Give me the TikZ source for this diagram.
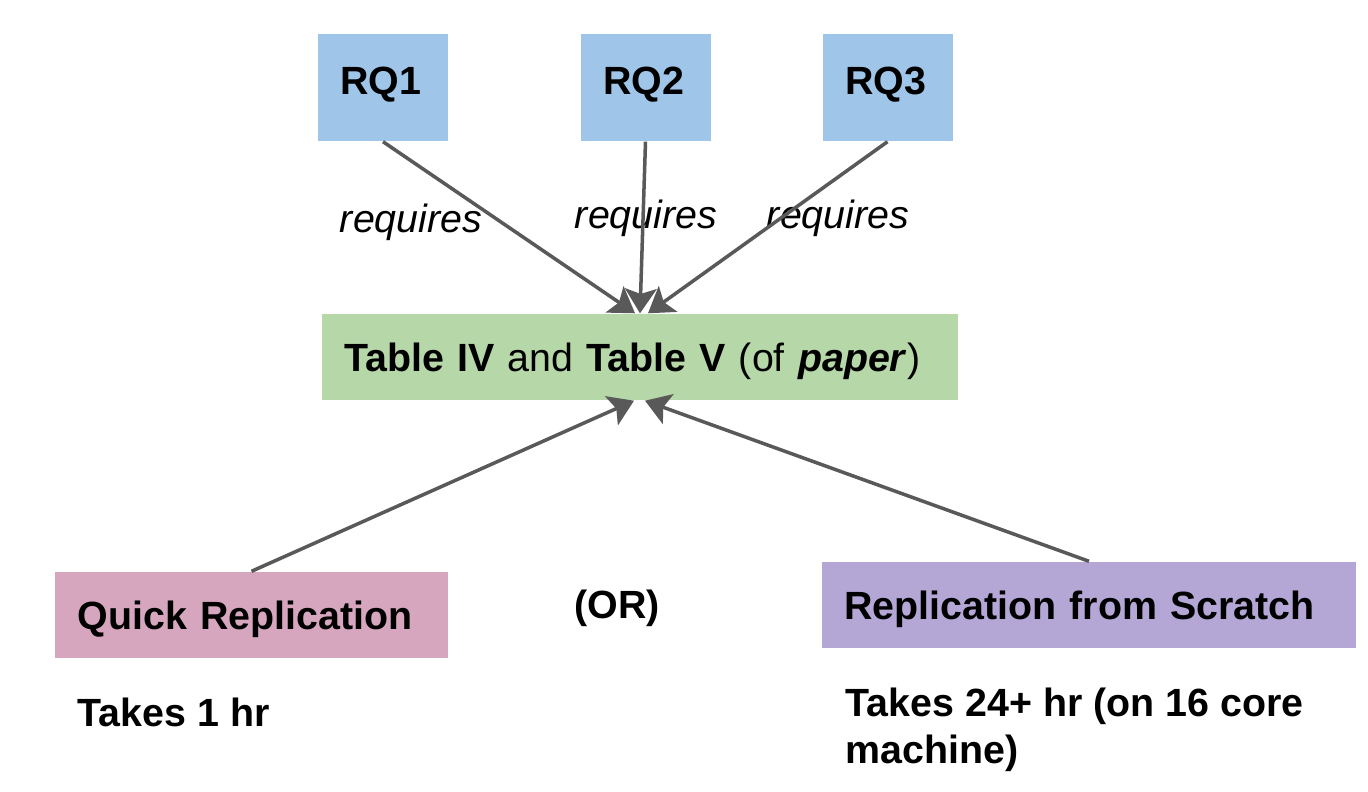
\documentclass[tikz,border=0pt]{standalone}
\usepackage{fontspec}
\setmainfont{Liberation Sans}
\definecolor{rqblue}{RGB}{159,197,232}
\definecolor{tablegreen}{RGB}{182,215,168}
\definecolor{quickpink}{RGB}{213,166,189}
\definecolor{scratchpurple}{RGB}{180,167,214}
\definecolor{arrowgray}{RGB}{89,89,89}
\tikzset{every picture/.style={/utils/exec={\fontsize{11.2pt}{13.4pt}\selectfont}}}
\usetikzlibrary{calc}
\usetikzlibrary{positioning, arrows.meta}
\tikzset{
  box/.style={inner xsep=0.225cm, inner ysep=0pt, align=left, font=\bfseries,
    text height=8pt, text depth=-1pt},
  rqbox/.style={box, fill=rqblue, text width=0.85cm, minimum height=1.07cm, text depth=4pt},
  req/.style={font=\itshape, inner sep=0pt},
  link/.style={draw=arrowgray, line width=1pt, -{Stealth[length=7pt, width=9pt, inset=1.5pt]}}
}

\begin{document}
\begin{tikzpicture}
  \useasboundingbox (0,0) rectangle (13.68,-7.92);

  \node [rqbox] (rq1) at (3.83,-0.875) {RQ1};
  \node [rqbox] (rq2) at (6.455,-0.875) {RQ2};
  \node [rqbox] (rq3) at (8.875,-0.875) {RQ3};

  \node [box, fill=tablegreen, text width=5.91cm, minimum height=0.86cm] (tables) at (6.40,-3.57)
    {Table IV \textmd{and} Table V \textmd{(of \textbf{\textit{paper}})}};

  \node [box, fill=quickpink, text width=3.48cm, minimum height=0.86cm] (quick) at (2.515,-6.15) {Quick Replication};
  \node [box, fill=scratchpurple, text width=4.89cm, minimum height=0.86cm] (scratch) at (10.89,-6.05) {Replication from Scratch};

  \node [req] (req1) at (4.11,-2.22) {requires};
  \node [req] (req2) at (6.46,-2.18) {requires};
  \node [req] (req3) at (8.38,-2.18) {requires};

  \draw [link] (rq1.south) -- ($(tables.north)+(-0.05,0)$);
  \draw [link] (rq2.south) -- ($(tables.north)+(0,0)$);
  \draw [link] (rq3.south) -- ($(tables.north)+(0.08,0)$);
  \draw [link] (quick.north) -- ($(tables.south)+(-0.06,0)$);
  \draw [link] (scratch.north) -- ($(tables.south)+(0.05,0)$);

  \node [font=\bfseries] (or) at (6.17,-6.08) {(OR)};
  \node [font=\bfseries, anchor=base west, inner sep=0pt] (quicktime) at (0.77,-7.27) {Takes 1 hr};
  \node [font=\bfseries, anchor=base west, inner sep=0pt, align=left] (scratchtime) at (8.45,-7.64)
    {Takes 24+ hr (on 16 core\\machine)};
\end{tikzpicture}
\end{document}
